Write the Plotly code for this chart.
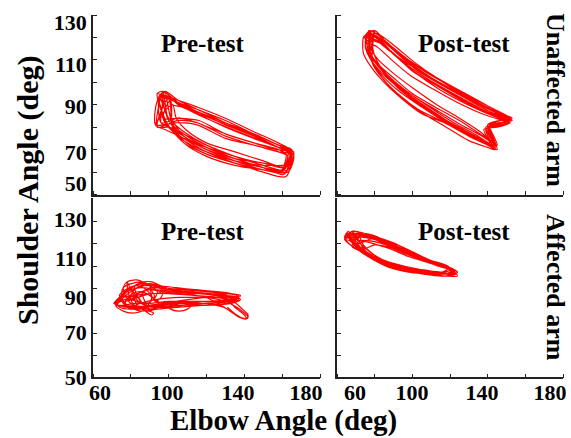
import plotly.graph_objects as go

# ---- data: elbow (x) and shoulder (y) angle trajectories, one list per movement cycle ----
pre_unaff_elbow = [
    [94, 105, 115, 130, 145, 158, 166, 163, 150, 135, 120, 108, 100, 94],
    [97, 105, 115, 130, 145, 158, 164, 161, 150, 135, 120, 108, 100, 97],
    [94, 105, 115, 130, 145, 158, 163, 160, 150, 135, 120, 108, 100, 94],
    [100, 105, 115, 130, 145, 158, 165, 162, 150, 135, 120, 108, 102, 100],
    [95, 105, 115, 130, 145, 158, 164, 164, 150, 135, 120, 108, 100, 95],
    [96, 105, 115, 130, 145, 158, 162, 159, 150, 135, 120, 108, 100, 96],
    [99, 105, 115, 130, 145, 158, 166, 163, 150, 135, 120, 108, 101, 99],
    [102, 107, 117, 131, 146, 158, 165, 162, 150, 135, 120, 109, 104, 102],
    [93, 105, 115, 130, 145, 158, 164, 161, 150, 135, 120, 108, 98, 93],
    [95, 105, 115, 130, 145, 158, 163, 160, 150, 135, 120, 108, 99, 95],
    [98, 105, 115, 130, 145, 158, 165, 164, 150, 135, 120, 108, 102, 98],
    [97, 106, 116, 130, 145, 157, 163, 160, 150, 135, 120, 108, 101, 97],
    [101, 106, 116, 131, 146, 158, 164, 162, 150, 135, 120, 108, 102, 101],
    [96, 105, 115, 130, 145, 158, 165, 161, 150, 135, 120, 108, 100, 96],
]
pre_unaff_shoulder = [
    [95, 92, 88, 83, 77, 72, 69, 61, 61, 64, 69, 75, 80, 95],
    [96, 91, 87, 82, 76, 71, 68, 59, 62, 66, 71, 77, 83, 96],
    [80, 83, 82, 76, 72, 69, 67, 61, 63, 67, 72, 77, 80, 80],
    [93, 91, 87, 81, 76, 71, 69, 58, 60, 64, 68, 74, 82, 93],
    [94, 92, 89, 84, 78, 73, 70, 63, 64, 67, 72, 78, 84, 94],
    [82, 84, 82, 77, 73, 70, 68, 60, 61, 65, 70, 76, 80, 82],
    [94, 90, 86, 80, 75, 71, 68, 60, 62, 66, 70, 76, 85, 94],
    [90, 89, 85, 80, 75, 71, 68, 62, 65, 69, 73, 79, 84, 90],
    [81, 82, 81, 75, 72, 69, 68, 62, 64, 66, 70, 75, 79, 81],
    [93, 91, 87, 82, 77, 72, 70, 60, 61, 64, 68, 73, 82, 93],
    [96, 92, 88, 83, 77, 72, 68, 64, 63, 65, 69, 74, 81, 96],
    [84, 84, 83, 77, 73, 70, 69, 61, 62, 65, 69, 74, 79, 84],
    [92, 90, 86, 81, 76, 71, 69, 60, 61, 63, 67, 73, 80, 92],
    [95, 91, 88, 82, 77, 72, 70, 61, 63, 67, 71, 76, 83, 95],
]

post_unaff_elbow = [
    [76, 82, 90, 100, 112, 125, 138, 148, 152, 146, 140, 144, 139, 128, 115, 103, 92, 84, 78, 75, 76],
    [76, 82, 90, 100, 111, 124, 137, 147, 152, 146, 140, 143, 138, 127, 114, 102, 91, 83, 77, 76],
    [78, 84, 92, 102, 114, 127, 140, 149, 151, 144, 139, 142, 136, 124, 111, 99, 89, 81, 77, 78],
    [78, 83, 91, 100, 112, 125, 138, 148, 151, 144, 139, 143, 137, 127, 115, 103, 92, 84, 79, 78],
    [74, 80, 88, 98, 110, 123, 136, 147, 153, 147, 141, 145, 140, 130, 117, 105, 94, 85, 78, 74, 74],
    [75, 80, 87, 96, 108, 121, 134, 146, 152, 146, 140, 144, 139, 129, 116, 104, 93, 85, 79, 75],
    [80, 86, 95, 106, 118, 131, 143, 150, 148, 142, 140, 143, 137, 126, 114, 102, 91, 83, 79, 80],
    [79, 84, 92, 102, 114, 126, 139, 149, 151, 145, 140, 142, 136, 125, 113, 101, 90, 82, 78, 79],
    [75, 81, 89, 99, 111, 124, 137, 148, 152, 145, 138, 141, 135, 122, 109, 97, 87, 80, 76, 75],
    [77, 82, 89, 98, 109, 122, 135, 146, 152, 146, 141, 144, 140, 130, 118, 106, 95, 86, 79, 77],
    [77, 83, 91, 101, 113, 126, 139, 149, 153, 147, 141, 145, 141, 131, 118, 105, 93, 84, 78, 77],
    [79, 85, 93, 103, 115, 128, 141, 150, 151, 145, 139, 142, 136, 125, 112, 100, 90, 82, 77, 79],
]
post_unaff_shoulder = [
    [121, 120, 115, 108, 101, 95, 89, 85, 83, 82, 80, 71, 73, 78, 84, 91, 98, 104, 110, 116, 121],
    [122, 119, 113, 106, 100, 94, 88, 84, 83, 82, 80, 72, 74, 79, 85, 92, 99, 106, 113, 122],
    [122, 118, 111, 104, 97, 91, 86, 83, 82, 81, 79, 72, 75, 80, 87, 94, 101, 108, 115, 122],
    [120, 118, 112, 105, 99, 93, 87, 84, 82, 81, 79, 71, 74, 78, 83, 88, 95, 102, 109, 120],
    [120, 119, 114, 108, 102, 96, 90, 86, 84, 83, 81, 70, 72, 76, 82, 86, 93, 100, 107, 113, 120],
    [121, 121, 117, 111, 104, 98, 92, 87, 84, 83, 81, 72, 73, 77, 83, 90, 97, 104, 111, 121],
    [123, 118, 111, 104, 98, 92, 87, 83, 81, 80, 78, 73, 76, 81, 87, 93, 100, 107, 115, 123],
    [119, 117, 111, 104, 98, 92, 87, 84, 82, 81, 80, 74, 78, 84, 90, 97, 104, 110, 115, 119],
    [118, 116, 110, 103, 97, 91, 86, 83, 82, 80, 79, 73, 76, 82, 89, 96, 103, 109, 114, 118],
    [123, 121, 116, 110, 104, 97, 91, 86, 83, 82, 80, 70, 71, 74, 80, 86, 93, 100, 108, 123],
    [123, 121, 116, 109, 102, 96, 90, 85, 83, 82, 81, 72, 72, 76, 82, 89, 96, 103, 110, 123],
    [121, 118, 112, 105, 99, 93, 87, 84, 82, 81, 80, 74, 77, 83, 89, 95, 102, 108, 114, 121],
]

pre_aff_elbow = [
    [72, 78, 86, 95, 105, 116, 127, 134, 131, 120, 108, 97, 88, 80, 74, 72],
    [71, 75, 80, 86, 93, 101, 111, 122, 131, 137, 133, 123, 112, 101, 92, 84, 77, 71],
    [75, 80, 87, 95, 104, 114, 125, 133, 137, 132, 121, 109, 98, 90, 83, 78, 75],
    [76, 80, 85, 92, 100, 112, 124, 133, 136, 130, 118, 106, 96, 89, 83, 78, 76],
    [78, 83, 88, 94, 92, 88, 84, 81, 78],
    [80, 84, 90, 96, 104, 115, 126, 131, 135, 140, 141, 137, 129, 118, 105, 95, 87, 82, 80],
    [81, 85, 91, 98, 108, 119, 130, 136, 131, 119, 107, 97, 90, 84, 81],
    [84, 88, 93, 99, 107, 118, 129, 136, 138, 133, 122, 110, 98, 91, 86, 84],
    [74, 79, 84, 88, 91, 89, 85, 80, 76, 74],
    [79, 85, 94, 106, 120, 132, 137, 131, 119, 106, 94, 85, 79],
    [72, 77, 83, 88, 86, 81, 76, 72],
    [82, 87, 91, 96, 102, 110, 120, 128, 133, 128, 118, 108, 99, 92, 86, 82],
    [90, 94, 97, 96, 93, 91, 90],
    [92, 100, 110, 121, 132, 138, 135, 124, 112, 101, 93, 92],
    [77, 81, 86, 90, 93, 95, 92, 88, 84, 80, 77],
    [86, 92, 100, 110, 122, 131, 134, 129, 118, 106, 96, 90, 86],
    [100, 106, 112, 110, 105, 101, 100],
    [73, 76, 82, 90, 100, 113, 125, 130, 124, 112, 100, 90, 82, 76, 73],
    [88, 90, 92, 91, 89, 87, 88],
    [120, 128, 134, 139, 142, 141, 137, 131, 124, 120],
    [130, 136, 140, 142, 141, 136, 131],
]
pre_aff_shoulder = [
    [88, 95, 98, 96, 94, 93, 92, 91, 89, 88, 87, 87, 86, 85, 86, 88],
    [88, 92, 95, 96, 95, 94, 93, 93, 92, 91, 89, 88, 88, 88, 87, 86, 86, 88],
    [90, 94, 97, 97, 96, 95, 94, 93, 92, 90, 89, 89, 88, 87, 85, 86, 90],
    [96, 98, 99, 97, 95, 94, 92, 91, 90, 89, 88, 87, 86, 85, 86, 90, 96],
    [99, 100, 98, 94, 90, 88, 89, 93, 99],
    [90, 93, 95, 94, 93, 92, 91, 90, 86, 82, 80, 81, 86, 88, 88, 87, 86, 87, 90],
    [94, 97, 98, 96, 95, 94, 93, 92, 89, 88, 88, 87, 84, 86, 94],
    [91, 95, 96, 95, 94, 93, 92, 91, 90, 88, 87, 87, 86, 86, 88, 91],
    [92, 96, 97, 95, 91, 87, 85, 86, 88, 92],
    [86, 88, 90, 91, 91, 91, 90, 88, 87, 86, 85, 84, 86],
    [87, 90, 89, 86, 84, 83, 84, 87],
    [97, 99, 99, 97, 95, 94, 93, 92, 91, 89, 89, 88, 87, 86, 88, 97],
    [98, 97, 94, 91, 89, 92, 98],
    [93, 95, 95, 94, 93, 92, 90, 89, 89, 88, 89, 93],
    [89, 93, 94, 92, 90, 87, 85, 84, 86, 85, 89],
    [94, 96, 95, 94, 93, 92, 90, 89, 88, 88, 87, 85, 94],
    [86, 88, 87, 85, 84, 85, 86],
    [87, 91, 92, 93, 93, 92, 91, 90, 89, 89, 89, 88, 88, 87, 87],
    [86, 84, 83, 82, 83, 85, 86],
    [91, 91, 89, 85, 82, 80, 81, 85, 89, 91],
    [89, 86, 83, 81, 80, 82, 86],
]

post_aff_elbow = [
    [66, 70, 78, 88, 98, 108, 118, 122, 119, 108, 96, 86, 76, 69, 66],
    [64, 68, 74, 81, 89, 98, 108, 117, 122, 118, 108, 98, 89, 80, 72, 66, 64],
    [65, 69, 76, 85, 94, 104, 114, 121, 123, 116, 104, 93, 83, 74, 68, 65],
    [65, 68, 74, 82, 92, 102, 112, 120, 124, 118, 106, 94, 84, 75, 68, 65],
    [69, 73, 79, 86, 94, 103, 112, 120, 123, 116, 106, 96, 87, 79, 73, 69],
    [67, 73, 81, 90, 99, 109, 118, 124, 120, 110, 100, 91, 82, 74, 67],
    [64, 70, 80, 90, 100, 110, 119, 121, 114, 104, 94, 86, 78, 70, 64],
    [71, 77, 85, 94, 104, 114, 121, 118, 108, 98, 89, 81, 74, 71],
    [68, 72, 78, 86, 95, 104, 113, 120, 122, 115, 105, 96, 88, 80, 72, 68],
    [70, 76, 83, 91, 100, 109, 118, 122, 116, 106, 96, 88, 81, 75, 70],
    [70, 75, 82, 90, 99, 108, 117, 123, 118, 108, 98, 90, 82, 75, 70],
    [72, 78, 84, 92, 101, 110, 118, 120, 112, 102, 93, 85, 78, 72],
    [68, 74, 82, 91, 101, 111, 120, 124, 121, 111, 100, 91, 83, 75, 68],
    [66, 71, 79, 88, 97, 106, 115, 121, 124, 117, 107, 97, 89, 80, 72, 66],
    [74, 80, 87, 95, 103, 112, 119, 116, 107, 98, 90, 83, 77, 74],
]
post_aff_shoulder = [
    [125, 121, 119, 116, 112, 109, 106, 104, 103, 104, 106, 108, 113, 118, 125],
    [122, 125, 124, 121, 117, 113, 110, 107, 104, 102, 103, 104, 106, 110, 115, 119, 122],
    [123, 124, 122, 119, 115, 111, 107, 105, 103, 103, 104, 106, 110, 115, 120, 123],
    [124, 123, 122, 121, 117, 113, 109, 106, 102, 102, 103, 105, 109, 114, 119, 124],
    [121, 122, 121, 119, 116, 112, 109, 106, 103, 102, 103, 105, 107, 111, 116, 121],
    [120, 123, 122, 118, 114, 110, 106, 104, 102, 103, 105, 107, 110, 114, 120],
    [121, 122, 122, 119, 114, 110, 107, 104, 103, 104, 105, 108, 112, 116, 121],
    [124, 122, 119, 115, 111, 108, 105, 103, 104, 106, 108, 112, 118, 124],
    [117, 120, 120, 118, 115, 111, 108, 105, 103, 104, 105, 106, 109, 112, 115, 117],
    [118, 120, 119, 116, 112, 109, 106, 104, 103, 105, 107, 109, 111, 114, 118],
    [123, 123, 121, 117, 113, 110, 107, 103, 102, 104, 106, 108, 111, 115, 123],
    [119, 121, 121, 118, 114, 110, 107, 105, 104, 105, 107, 110, 114, 119],
    [125, 124, 121, 117, 113, 109, 106, 104, 103, 104, 105, 107, 109, 115, 125],
    [122, 124, 123, 119, 115, 111, 108, 106, 104, 103, 104, 105, 106, 110, 115, 122],
    [116, 118, 117, 114, 111, 108, 106, 104, 105, 106, 108, 110, 112, 116],
]

# axis text: tick labels and where they sit (label centres as printed in the original)
x_tick_labels = ["60", "100", "140", "180"]
x_label_pos_left = [63.7, 99.1, 136.7, 172.6]
x_label_pos_right = [69.6, 99.8, 137.0, 173.1]
x_mark_values = [60, 80, 100, 120, 140, 160, 180]
y_tick_labels = ["130", "110", "90", "70", "50"]
y_label_pos_top = [126.6, 107.9, 89.1, 69.0, 55.1]
y_mark_values_top = [50, 60, 70, 80, 90, 100, 110, 120, 130]
y_label_pos_bottom = [130.9, 111.3, 91.3, 73.3, 50.2]
panel_titles = ["Pre-test", "Post-test", "Pre-test", "Post-test"]
row_labels = ["Unaffected arm", "Affected arm"]
x_title = "Elbow Angle (deg)"
y_title = "Shoulder Angle (deg)"

# ---- figure ----
W, H = 571, 438
FONT = "Liberation Serif"
RED = "#ff0000"
AX = "#222"


def px(x):
    return x / W


def py(y):
    return 1 - y / H


fig = go.Figure()

panels = [
    (pre_unaff_elbow, pre_unaff_shoulder, "x", "y"),
    (post_unaff_elbow, post_unaff_shoulder, "x2", "y2"),
    (pre_aff_elbow, pre_aff_shoulder, "x3", "y3"),
    (post_aff_elbow, post_aff_shoulder, "x4", "y4"),
]
for ex, sy, xa, ya in panels:
    xs, ys = [], []
    for a, b in zip(ex, sy):
        xs += a
        ys += b
    fig.add_trace(go.Scatter(
        x=xs, y=ys, mode="lines", xaxis=xa, yaxis=ya,
        line=dict(color=RED, width=1.2, shape="spline", smoothing=0.8),
        showlegend=False, hoverinfo="skip"))

tickfont = dict(family=FONT, size=22, color="black", weight="bold")
left_dom = [px(93), px(320)]
right_dom = [px(337), px(563)]
top_dom = [py(194.5), py(15)]
bot_dom = [py(377.3), py(197.5)]

# bottom panels: label scale 130 -> 50 spans 221.5..377.3 px, tick marks every 22.3 px
bot_scale = (377.3 - 221.5) / 80.0
bot_top = 50 + (377.3 - 197.5) / bot_scale
bot_marks = [130 - 22.3 * k / bot_scale for k in range(8)]


def marks(vals):
    return dict(tickmode="array", tickvals=vals, ticks="inside", ticklen=4,
                tickcolor=AX, tickwidth=1, showgrid=False)


common = dict(showline=True, linecolor=AX, linewidth=1.5, ticks="",
              tickmode="array", showgrid=False, zeroline=False,
              tickfont=tickfont, automargin=False, fixedrange=True,
              ticklabeloverflow="allow")


def xaxis(dom, anchor, labels, pos):
    return dict(common, domain=dom, anchor=anchor, range=[60, 180],
                tickvals=pos, ticktext=x_tick_labels, showticklabels=labels,
                ticklabelstandoff=-5, minor=marks(x_mark_values))


def yaxis(dom, anchor, labels, rng, pos, mk):
    return dict(common, domain=dom, anchor=anchor, range=rng,
                tickvals=pos, ticktext=y_tick_labels, showticklabels=labels,
                minor=marks(mk))


fig.update_layout(
    width=W, height=H, autosize=False,
    margin=dict(l=0, r=0, t=0, b=0, pad=0, autoexpand=False),
    paper_bgcolor="white", plot_bgcolor="white",
    xaxis=xaxis(left_dom, "y", False, x_label_pos_left),
    yaxis=yaxis(top_dom, "x", True, [50, 130], y_label_pos_top, y_mark_values_top),
    xaxis2=xaxis(right_dom, "y2", False, x_label_pos_right),
    yaxis2=yaxis(top_dom, "x2", False, [50, 130], y_label_pos_top, y_mark_values_top),
    xaxis3=xaxis(left_dom, "y3", True, x_label_pos_left),
    yaxis3=yaxis(bot_dom, "x3", True, [50, bot_top], y_label_pos_bottom, bot_marks),
    xaxis4=xaxis(right_dom, "y4", True, x_label_pos_right),
    yaxis4=yaxis(bot_dom, "x4", False, [50, bot_top], y_label_pos_bottom, bot_marks),
)

title_font = dict(family=FONT, size=25, color="black", weight="bold")
title_pos = [(202.5, 43), (464, 43), (202.5, 231.5), (464, 231.5)]
for t, (tx, ty) in zip(panel_titles, title_pos):
    fig.add_annotation(text=t, x=px(tx), y=py(ty), xref="paper", yref="paper",
                       showarrow=False, font=title_font,
                       xanchor="center", yanchor="middle")

side_font = dict(family=FONT, size=26, color="black", weight="bold")
for t, cy in zip(row_labels, [100, 287]):
    fig.add_annotation(text=t, x=px(556), y=py(cy), xref="paper", yref="paper",
                       showarrow=False, font=side_font, textangle=90,
                       xanchor="center", yanchor="middle")

fig.add_annotation(text=x_title, x=px(283.5), y=py(437.8),
                   xref="paper", yref="paper", showarrow=False, borderpad=0,
                   font=dict(family=FONT, size=29, color="black", weight="bold"),
                   xanchor="center", yanchor="bottom")
fig.add_annotation(text=y_title, x=px(28), y=py(190),
                   xref="paper", yref="paper", showarrow=False, textangle=-90,
                   font=dict(family=FONT, size=30, color="black", weight="bold"),
                   xanchor="center", yanchor="middle")

fig.write_html("out.html", config=dict(displayModeBar=False),
               post_script="document.body.style.margin='0px';"
                           "document.body.style.overflow='hidden';")
